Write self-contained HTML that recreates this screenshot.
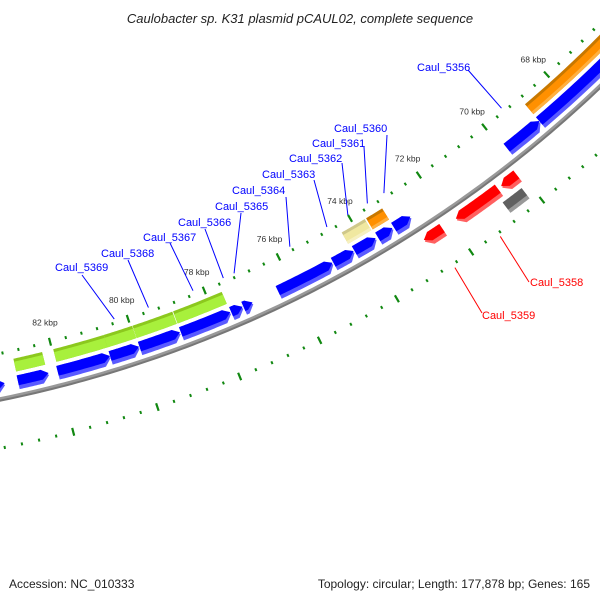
<!DOCTYPE html>
<html><head><meta charset="utf-8"><style>
html,body{margin:0;padding:0;background:#fff;}
svg{display:block;font-family:"Liberation Sans",sans-serif;}
</style></head><body>
<svg id="map" width="600" height="600" viewBox="0 0 600 600">
<text x="300" y="23" text-anchor="middle" font-size="13" font-style="italic" fill="#222">Caulobacter sp. K31 plasmid pCAUL02, complete sequence</text>
<text x="9" y="588" font-size="12" fill="#222">Accession: NC_010333</text>
<text x="590" y="588" text-anchor="end" font-size="12" fill="#222">Topology: circular; Length: 177,878 bp; Genes: 165</text>
<g id="layer"></g>
</svg>
<script>
// ---- data ----
const fwdStart = [83.3, 82.22, 80.69, 79.96, 78.92, 77.62, 77.30, 77.04, 74.90, 74.32, 73.71, 73.24, 72.73, 68.88, 66.00];
const fwdEnd   = [84.6, 82.98, 82.00, 80.69, 79.95, 78.90, 77.60, 77.28, 76.37, 74.88, 74.30, 73.65, 73.20, 69.89, 68.88];
const cogStart = [83.4, 82.25, 80.69, 79.96, 78.92, 77.62, 73.70, 73.20, 66.00];
const cogEnd   = [84.6, 82.97, 81.97, 80.69, 79.95, 78.90, 74.35, 73.66, 68.88];
const cogColor = ['green','green','green','green','green','green','khaki','orange','orange'];
const revStart = [72.25, 70.65, 70.10];
const revEnd   = [72.76, 71.86, 70.55];
const revColor = ['red','red','red'];
const otherStart = [70.20];
const otherEnd   = [70.75];
const fwdLabels = ['Caul_5369','Caul_5368','Caul_5367','Caul_5366','Caul_5365','Caul_5364','Caul_5363','Caul_5362','Caul_5361','Caul_5360','Caul_5356'];
const fwdLabelGene = [3,4,5,6,7,8,9,10,11,12,13];
const revLabels = ['Caul_5359','Caul_5358'];
const revLabelGene = [0,1];
const tickLabels = [68,70,72,74,76,78,80,82];
// ---- layout ----
const fwdLabelPos = [[55,271,82,275],[101,257,128,260],[143,241,170,243],[178,226,205,229],[215,210,241,213],[232,194,286,197],[262,178,314,180],[289,162,342,163],[312,147,364,147],[334,132,387,135],[417,71,468,70]];
const revLabelPos = [[482,319,482,313],[530,286,529,282]];
const CX=-244, CY=-800;
const A0=75.56, K0=82, DEG=1.977;
const NS='http://www.w3.org/2000/svg';
const layer=document.getElementById('layer');
function ang(k){return (A0-(K0-k)*DEG)*Math.PI/180;}
function pt(k,r){const a=ang(k);return [CX+r*Math.cos(a),CY+r*Math.sin(a)];}
function mk(tag,attrs){const e=document.createElementNS(NS,tag);for(const k in attrs)e.setAttribute(k,attrs[k]);layer.appendChild(e);return e;}
function arcPts(k1,k2,r,n){const p=[];for(let i=0;i<=n;i++){p.push(pt(k1+(k2-k1)*i/n,r));}return p;}
function shape(k1,k2,r1,r2,dir){
  const hd=7/(((r1+r2)/2)*DEG*Math.PI/180);
  let pts=[];const rm=(r1+r2)/2;
  if(dir===1){const ka=Math.min(k1+hd,k2);pts=pts.concat(arcPts(k2,ka,r1,20));pts.push(pt(k1,rm));pts=pts.concat(arcPts(ka,k2,r2,20));}
  else if(dir===-1){const kb=Math.max(k2-hd,k1);pts=pts.concat(arcPts(k1,kb,r1,20));pts.push(pt(k2,rm));pts=pts.concat(arcPts(kb,k1,r2,20));}
  else{pts=arcPts(k1,k2,r1,20).concat(arcPts(k2,k1,r2,20));}
  return pts.map(p=>p[0].toFixed(2)+','+p[1].toFixed(2)).join(' ');
}
const pal={green:['#8cc81e','#a8f03c','#bff870'],khaki:['#cfc88a','#f0e8a0','#f6f0c0'],orange:['#c87800','#ff9000','#ffb040'],red:['#ff0000','#ff0000','#ff6060'],blue:['#0000ff','#0000ff','#5a5aff'],gray:['#606060','#606060','#999999']};
// backbone
let bb=arcPts(60,90,1225,200).map(p=>p.join(',')).join(' ');
let e=mk('polyline',{points:bb,fill:'none',stroke:'#555',"stroke-width":2.5,opacity:0.8});


bb=arcPts(60,90,1223,200).map(p=>p.join(',')).join(' ');
e=mk('polyline',{points:bb,fill:'none',stroke:'#999',"stroke-width":2.5});


// ticks
for(let n=-30;n<=60;n++){
  const k=82-0.4*n;const big=Math.abs(k-Math.round(k))<0.01&&Math.round(k)%2===0;
  [1179,1272].forEach(r=>{
    const a=pt(k,r-(big?4:1.5)),b=pt(k,r+(big?4:1.5));
    const t=mk('line',{x1:a[0],y1:a[1],x2:b[0],y2:b[1],stroke:'#118811',"stroke-width":big?2.2:2});
    
    
  });
}
tickLabels.forEach(k=>{const p=pt(k,1159);
  const t=mk('text',{x:p[0],y:p[1]+3,"text-anchor":"middle","font-size":"8.5",fill:'#333'});t.textContent=k+' kbp';
  
  });
function drawGene(k1,k2,r1,r2,dir,col,bandOuter,name){
  const c=pal[col];
  const g1=mk('polygon',{points:shape(k1,k2,r1,r2,dir),fill:bandOuter?c[2]:c[0]});
  
  
  const g2=mk('polygon',{points:bandOuter?shape(k1,k2,r1,r2-4,dir):shape(k1,k2,r1+3,r2,dir),fill:c[1]});
  
  
  if(!bandOuter&&col!=='green'){const g3=mk('polygon',{points:shape(k1,k2,r2-3,r2,dir),fill:c[2]});
    
    }
}
cogStart.forEach((s,i)=>drawGene(s,cogEnd[i],1187,1200,0,cogColor[i],false,'cog-feature'));
fwdStart.forEach((s,i)=>drawGene(s,fwdEnd[i],1204,1218,1,'blue',true,'forward-gene'));
revStart.forEach((s,i)=>drawGene(s,revEnd[i],1231,1245,-1,revColor[i],true,'reverse-gene'));
otherStart.forEach((s,i)=>drawGene(s,otherEnd[i],1250,1263,0,'gray',true,'other-feature'));
fwdLabels.forEach((lab,i)=>{const g=fwdLabelGene[i];const k=(fwdStart[g]+fwdEnd[g])/2;const p=pt(k,1175);const lp=fwdLabelPos[i];
  const l=mk('line',{x1:lp[2],y1:lp[3],x2:p[0],y2:p[1],stroke:'#0000ff',"stroke-width":1});
  
  
  const t=mk('text',{x:lp[0],y:lp[1],"font-size":"11",fill:'#0000ff'});t.textContent=lab;
  
  });
revLabels.forEach((lab,i)=>{const g=revLabelGene[i];const k=(revStart[g]+revEnd[g])/2;const p=pt(k,1276);const lp=revLabelPos[i];
  const l=mk('line',{x1:lp[2],y1:lp[3],x2:p[0],y2:p[1],stroke:'#ff0000',"stroke-width":1});
  
  
  const t=mk('text',{x:lp[0],y:lp[1],"font-size":"11",fill:'#ff0000'});t.textContent=lab;
  
  });
</script>
</body></html>
